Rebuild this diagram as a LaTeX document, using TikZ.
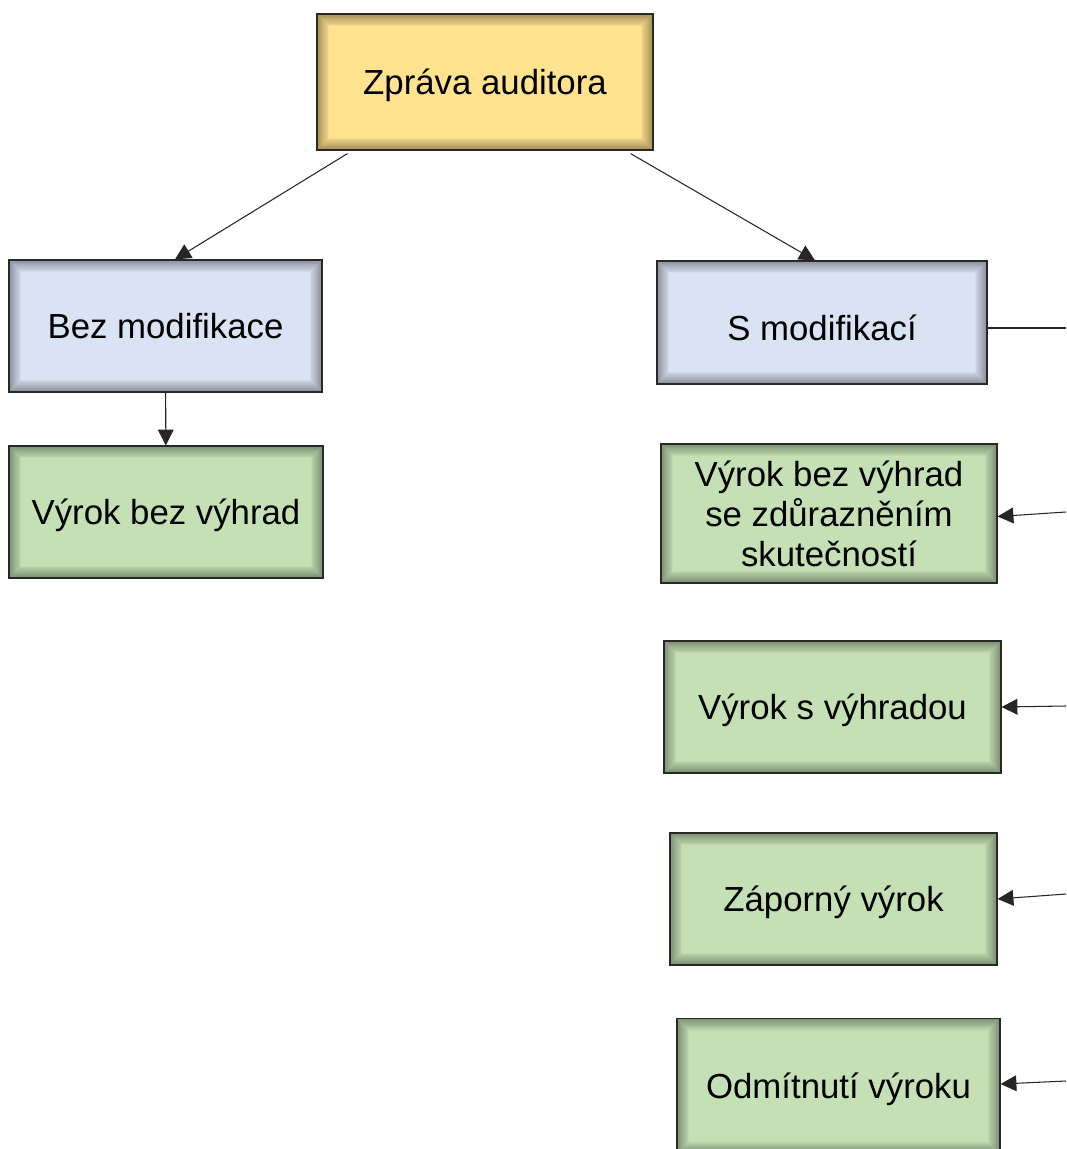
\documentclass[tikz,border=0pt]{standalone}
\usepackage{fontspec}
\setmainfont{Liberation Sans}
\usepackage{tikz}
\usetikzlibrary{arrows.meta,positioning}
\definecolor{boxyellow}{RGB}{255,227,143}
\definecolor{boxblue}{RGB}{218,227,243}
\definecolor{boxgreen}{RGB}{197,224,180}
\definecolor{boxline}{RGB}{40,40,40}
\tikzstyle{box} = [draw=boxline, line width=0.7pt, rectangle, align=center,
  font=\fontsize{19.8}{22.8}\selectfont, inner sep=0pt, text depth=0pt,
  path picture={\foreach \w in {1,...,14} \draw[black, opacity=0.028, line width=\w pt]
    (path picture bounding box.south west) rectangle (path picture bounding box.north east);}]
\tikzstyle{arrow} = [line width=0.6pt, -{Triangle[length=9pt,width=9pt]}, color=black!85]
\tikzstyle{link} = [line width=0.6pt, color=black!85]

\begin{document}
\begin{tikzpicture}[x=0.02cm, y=-0.02cm]
\useasboundingbox (0,0) rectangle (1066,1149);
% Top
\node[box, fill=boxyellow, minimum width=6.72cm, minimum height=2.72cm] (zprava) at (485,82) {Zpráva auditora};

% Second level
\node[box, fill=boxblue, minimum width=6.26cm, minimum height=2.64cm] (bez) at (165.5,326) {Bez modifikace};
\node[box, fill=boxblue, minimum width=6.6cm, minimum height=2.46cm, text height=21pt] (smod) at (822,322.5) {S modifikací};

% Opinions
\node[box, fill=boxgreen, minimum width=6.28cm, minimum height=2.64cm] (vbv) at (166,512) {Výrok bez výhrad};
\node[box, fill=boxgreen, minimum width=6.72cm, minimum height=2.78cm] (vzd) at (829,513.5) {Výrok bez výhrad\\se zdůrazněním\\skutečností};
\node[box, fill=boxgreen, minimum width=6.74cm, minimum height=2.64cm] (vsv) at (832.5,707) {Výrok s výhradou};
\node[box, fill=boxgreen, minimum width=6.54cm, minimum height=2.64cm] (zap) at (833.5,899) {Záporný výrok};
\node[box, fill=boxgreen, minimum width=6.46cm, minimum height=2.7cm] (odm) at (838.5,1086) {Odmítnutí výroku};

% Right edge
\coordinate (e0) at (1066,328);
\coordinate (e1) at (1066,512);
\coordinate (e2) at (1066,706);
\coordinate (e3) at (1066,894);
\coordinate (e4) at (1066,1081);

% Connectors
\draw[arrow] ([xshift=0.62cm, yshift=-0.06cm]zprava.south west) -- ([xshift=0.19cm]bez.north);
\draw[arrow] ([xshift=-0.46cm, yshift=-0.06cm]zprava.south east) -- ([xshift=-0.14cm]smod.north);
\draw[arrow] (bez) -- (vbv);
\draw[link] (smod.east |- e0) -- (e0);
\draw[arrow] (e1) -- ([yshift=-0.06cm]vzd.east);
\draw[arrow] (e2) -- (vsv.east);
\draw[arrow] (e3) -- (zap.east);
\draw[arrow] (e4) -- ([yshift=0.04cm]odm.east);
\end{tikzpicture}
\end{document}
